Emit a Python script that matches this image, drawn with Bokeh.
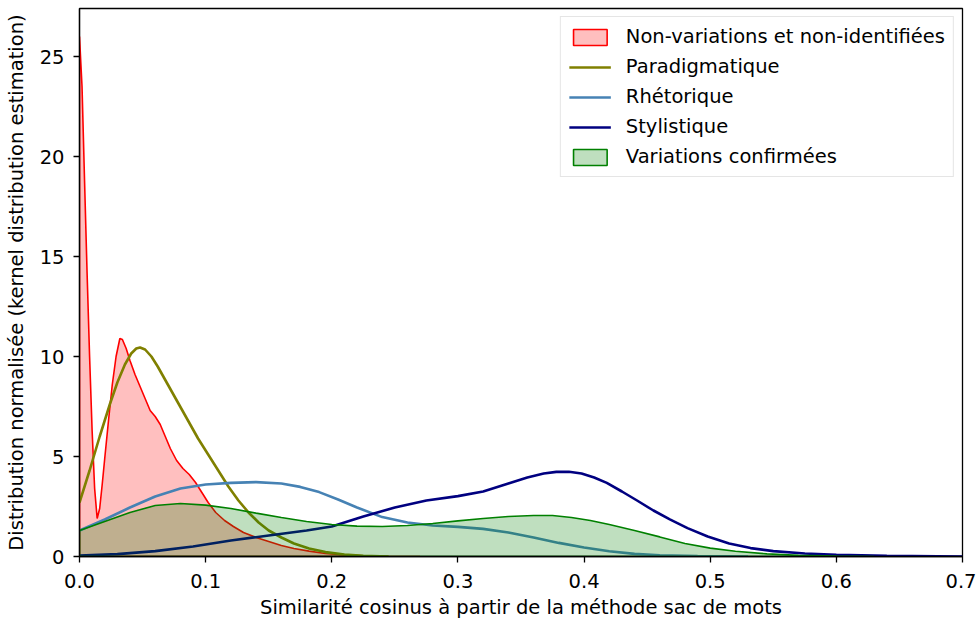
from bokeh.plotting import figure
from bokeh.models import FixedTicker, PrintfTickFormatter, Range1d
from bokeh.embed import file_html
from bokeh.resources import INLINE

# ---- data ----
x_non = [0.000, 0.002, 0.004, 0.006, 0.008, 0.010, 0.012, 0.014, 0.016, 0.018,
         0.020, 0.023, 0.026, 0.029, 0.032, 0.034, 0.037, 0.040, 0.044, 0.048,
         0.052, 0.056, 0.060, 0.064, 0.068, 0.072, 0.077, 0.082, 0.087, 0.092,
         0.097, 0.102, 0.108, 0.115, 0.122, 0.130, 0.140, 0.150, 0.160, 0.170,
         0.182, 0.195, 0.210, 0.225, 0.245, 0.270]
y_non = [26.0, 23.5, 18.8, 14.2, 10.0, 6.3, 3.4, 1.9, 2.4, 3.6,
         4.9, 6.8, 8.6, 10.0, 10.9, 10.85, 10.4, 9.8, 9.1, 8.5,
         7.9, 7.3, 7.0, 6.6, 6.0, 5.4, 4.8, 4.4, 4.1, 3.7,
         3.2, 2.7, 2.2, 1.8, 1.5, 1.2, 0.95, 0.75, 0.55, 0.4,
         0.27, 0.15, 0.08, 0.04, 0.015, 0.0]

x_par = [0.000, 0.008, 0.016, 0.024, 0.030, 0.036, 0.041, 0.045, 0.048, 0.052,
         0.057, 0.062, 0.070, 0.078, 0.086, 0.094, 0.102, 0.110, 0.118, 0.126,
         0.134, 0.142, 0.150, 0.160, 0.170, 0.182, 0.195, 0.210, 0.225, 0.245]
y_par = [2.7, 4.3, 6.0, 7.6, 8.7, 9.6, 10.15, 10.4, 10.45, 10.35,
         10.0, 9.5, 8.6, 7.7, 6.8, 5.9, 5.1, 4.3, 3.5, 2.8,
         2.2, 1.7, 1.3, 0.95, 0.65, 0.4, 0.22, 0.1, 0.04, 0.0]

x_rhe = [0.000, 0.020, 0.040, 0.060, 0.080, 0.100, 0.120, 0.140, 0.160, 0.175,
         0.190, 0.205, 0.220, 0.240, 0.260, 0.280, 0.300, 0.320, 0.340, 0.360,
         0.380, 0.400, 0.420, 0.440, 0.460, 0.490, 0.530]
y_rhe = [1.3, 1.85, 2.45, 3.0, 3.4, 3.6, 3.68, 3.72, 3.65, 3.48,
         3.22, 2.85, 2.45, 1.97, 1.7, 1.55, 1.48, 1.38, 1.2, 0.95,
         0.68, 0.45, 0.26, 0.13, 0.06, 0.02, 0.0]

x_sty = [0.000, 0.030, 0.060, 0.090, 0.120, 0.150, 0.180, 0.200, 0.225, 0.250,
         0.275, 0.300, 0.320, 0.340, 0.355, 0.368, 0.378, 0.388, 0.398, 0.408,
         0.418, 0.430, 0.442, 0.455, 0.468, 0.482, 0.498, 0.515, 0.532, 0.550,
         0.575, 0.600, 0.640, 0.700]
y_sty = [0.05, 0.12, 0.27, 0.5, 0.8, 1.05, 1.3, 1.5, 2.0, 2.45,
         2.8, 3.02, 3.25, 3.65, 3.95, 4.15, 4.23, 4.24, 4.15, 3.95,
         3.68, 3.25, 2.8, 2.3, 1.86, 1.42, 1.0, 0.65, 0.42, 0.27,
         0.15, 0.08, 0.03, 0.0]

x_var = [0.000, 0.020, 0.040, 0.060, 0.080, 0.100, 0.120, 0.140, 0.160, 0.180,
         0.200, 0.220, 0.240, 0.260, 0.280, 0.300, 0.320, 0.340, 0.360, 0.375,
         0.390, 0.405, 0.420, 0.440, 0.460, 0.480, 0.500, 0.520, 0.545, 0.570,
         0.600, 0.630]
y_var = [1.3, 1.75, 2.2, 2.55, 2.65, 2.57, 2.4, 2.17, 1.95, 1.75,
         1.6, 1.52, 1.5, 1.55, 1.65, 1.78, 1.9, 2.0, 2.05, 2.05,
         1.95, 1.8, 1.6, 1.3, 0.98, 0.65, 0.42, 0.26, 0.13, 0.06,
         0.02, 0.0]

labels = ["Non-variations et non-identifiées", "Paradigmatique", "Rhétorique",
          "Stylistique", "Variations confirmées"]
x_ticks = [0.0, 0.1, 0.2, 0.3, 0.4, 0.5, 0.6, 0.7]
y_ticks = [0, 5, 10, 15, 20, 25]

FONT = "DejaVu Sans"
FS = "19.5px"

p = figure(width=976, height=621, output_backend="svg", toolbar_location=None,
           x_range=Range1d(0, 0.7), y_range=Range1d(0, 27.4),
           min_border_left=79, min_border_right=14, min_border_top=8, min_border_bottom=65)
p.grid.visible = False
p.outline_line_color = "black"
p.outline_line_width = 1.3
p.background_fill_color = "white"

# filled KDE: Non-variations
p.patch([x_non[0]] + x_non + [x_non[-1]], [0] + y_non + [0],
        fill_color="red", fill_alpha=0.25, line_color="red", line_width=1.6,
        legend_label=labels[0])
p.line(x_par, y_par, line_color="#808000", line_width=2.6, legend_label=labels[1])
p.line(x_rhe, y_rhe, line_color="#4682b4", line_width=2.6, legend_label=labels[2])
p.line(x_sty, y_sty, line_color="#000080", line_width=2.6, legend_label=labels[3])
p.patch([x_var[0]] + x_var + [x_var[-1]], [0] + y_var + [0],
        fill_color="green", fill_alpha=0.25, line_color="green", line_width=1.6,
        legend_label=labels[4])

for ax in (p.xaxis[0], p.yaxis[0]):
    ax.major_label_text_font = FONT
    ax.major_label_text_font_size = FS
    ax.major_label_text_color = "black"
    ax.axis_label_text_font = FONT
    ax.axis_label_text_font_size = FS
    ax.axis_label_text_font_style = "normal"
    ax.axis_label_text_color = "black"
    ax.axis_line_color = "black"
    ax.axis_line_width = 1.3
    ax.major_tick_line_color = "black"
    ax.major_tick_line_width = 1.3
    ax.major_tick_in = 0
    ax.major_tick_out = 6
    ax.minor_tick_line_color = None

p.xaxis.ticker = FixedTicker(ticks=x_ticks)
p.xaxis.formatter = PrintfTickFormatter(format="%.1f")
p.yaxis.ticker = FixedTicker(ticks=y_ticks)
p.xaxis.axis_label = "Similarité cosinus à partir de la méthode sac de mots"
p.yaxis.axis_label = "Distribution normalisée (kernel distribution estimation)"
p.xaxis.major_label_standoff = 11
p.yaxis.major_label_standoff = 9
p.xaxis.axis_label_standoff = 5
p.yaxis.axis_label_standoff = 9

lg = p.legend[0]
lg.location = "top_right"
lg.margin = 8
lg.padding = 8
lg.spacing = 7
lg.glyph_width = 42
lg.glyph_height = 20
lg.label_height = 20
lg.label_standoff = 15
lg.label_text_font = FONT
lg.label_text_font_size = FS
lg.label_text_color = "black"
lg.border_line_color = "#cccccc"
lg.border_line_width = 1
lg.background_fill_color = "white"
lg.background_fill_alpha = 0.8

open("out.html", "w").write(file_html(p, INLINE))
